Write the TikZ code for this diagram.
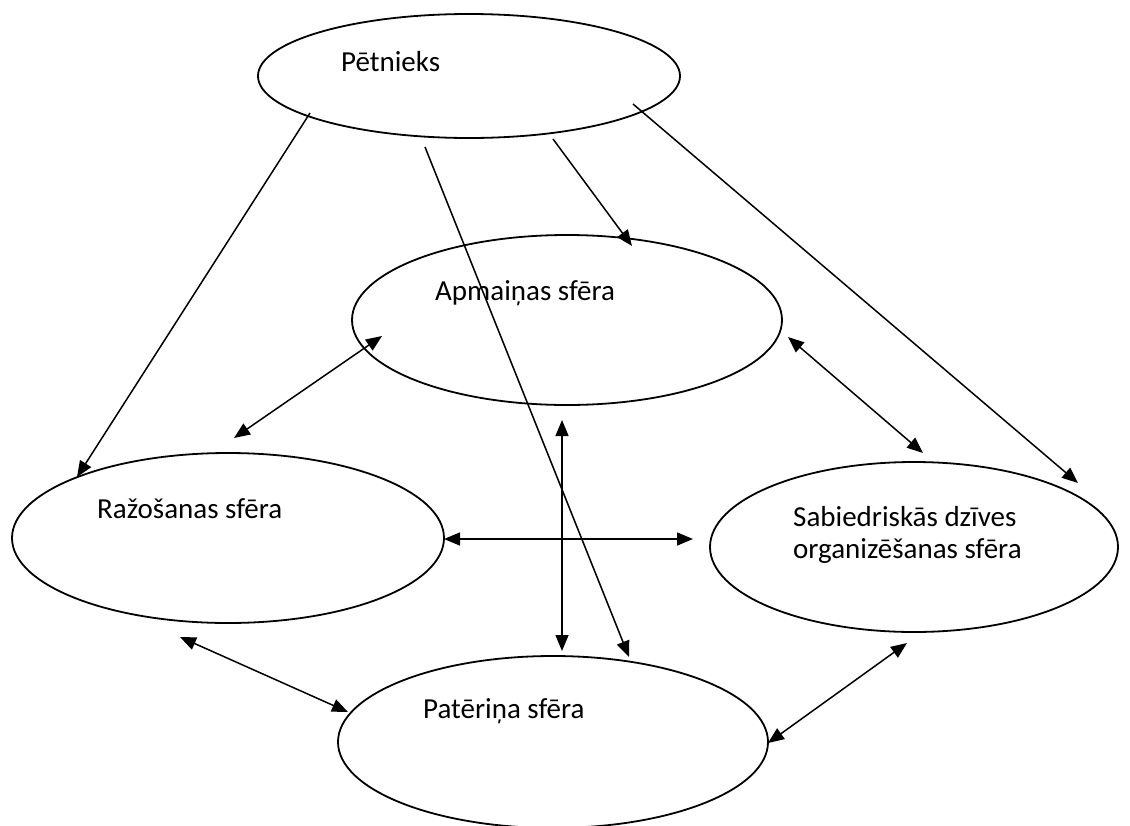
\documentclass[tikz,border=0pt]{standalone}
\usepackage{fontspec}
\setmainfont{Carlito}
\usetikzlibrary{arrows.meta,shapes.geometric}
\begin{document}
\begin{tikzpicture}[x=1pt,y=-1pt,
  sphere/.style={draw=black,line width=1.8pt,ellipse,inner sep=0pt},
  lbl/.style={anchor=base west,inner sep=0pt,font=\fontsize{29}{32}\selectfont,align=left},
  onearrow/.style={line width=1.5pt,-{Triangle[length=16pt,width=13pt]}},
  twoarrow/.style={line width=1.5pt,{Triangle[length=16pt,width=13pt]}-{Triangle[length=16pt,width=13pt]}}]
\useasboundingbox (0,0) rectangle (1130,825);
% spheres
\node[sphere,minimum width=422pt,minimum height=124pt] (pet) at (469,76) {};
\node[sphere,minimum width=430pt,minimum height=170pt] (apm) at (567,320) {};
\node[sphere,minimum width=432pt,minimum height=170pt] (raz) at (228,538) {};
\node[sphere,minimum width=408pt,minimum height=170pt] (sab) at (914,547) {};
\node[sphere,minimum width=430pt,minimum height=172pt] (pat) at (553,742) {};
% labels
\node[lbl] (tpet) at (341,71) {Pētnieks};
\node[lbl] (tapm) at (435,300) {Apmaiņas sfēra};
\node[lbl] (traz) at (97,518) {Ražošanas sfēra};
\node[lbl] (tsab) at (793,558) {Sabiedriskās dzīves\\organizēšanas sfēra};
\node[lbl] (tpat) at (423,718) {Patēriņa sfēra};
% connector end points
\coordinate (p1) at (310,113); \coordinate (r1) at (77,477);
\coordinate (p2) at (425,147); \coordinate (c2) at (629,657);
\coordinate (p3) at (553,139); \coordinate (a3) at (632,246);
\coordinate (p4) at (633,104); \coordinate (s4) at (1078,483);
\coordinate (a5) at (382,336); \coordinate (r5) at (234,438);
\coordinate (a6) at (788,337); \coordinate (s6) at (923,453);
\coordinate (a7) at (562,420); \coordinate (c7) at (562,651);
\coordinate (r8) at (444,539); \coordinate (s8) at (693,539);
\coordinate (r9) at (180,637); \coordinate (c9) at (348,712);
\coordinate (s10) at (907,643); \coordinate (c10) at (768,743);
% researcher arrows
\draw[onearrow] (p1) -- (r1);
\draw[onearrow] (p2) -- (c2);
\draw[onearrow] (p3) -- (a3);
\draw[onearrow] (p4) -- (s4);
% mutual arrows
\draw[twoarrow] (a5) -- (r5);
\draw[twoarrow] (a6) -- (s6);
\draw[twoarrow] (a7) -- (c7);
\draw[twoarrow] (r8) -- (s8);
\draw[twoarrow] (r9) -- (c9);
\draw[twoarrow] (s10) -- (c10);
\end{tikzpicture}
\end{document}
